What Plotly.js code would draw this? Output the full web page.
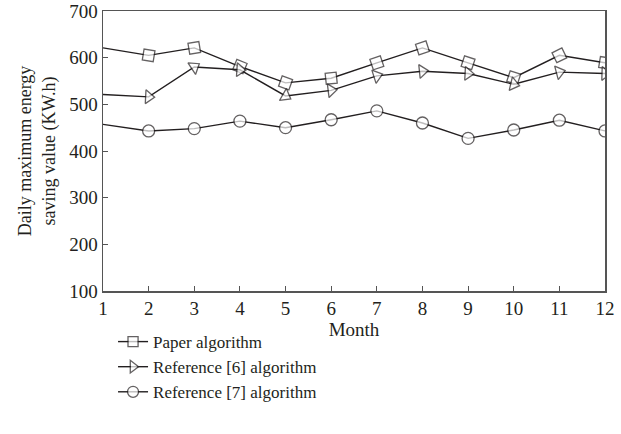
<!DOCTYPE html>
<html>
<head>
<meta charset="utf-8">
<script src="https://cdn.plot.ly/plotly-3.0.1.min.js"></script>
<style>html,body{margin:0;padding:0;background:#fff;}#chart{width:621px;height:434px;}</style>
</head>
<body>
<div id="chart"></div>
<script>
var months = [1,2,3,4,5,6,7,8,9,10,11,12];
var paperAlgorithm = [621,605,621,581,546,556,589,621,589,557,605,589];
var reference6 = [521,516,580,574,518,530,561,571,566,543,569,566];
var reference7 = [457,443,448,464,450,467,486,460,427,445,466,443];
var seriesNames = ['Paper algorithm','Reference [6] algorithm','Reference [7] algorithm'];
var xTicks = [1,2,3,4,5,6,7,8,9,10,11,12];
var yTicks = [100,200,300,400,500,600,700];

var lineColor = '#231f20';
var font = 'Liberation Serif, Times New Roman, serif';

function sizes(arr, s){ return arr.map(function(v,i){ return i===0 ? 0 : s; }); }

function mk(y, name, symbol, s){
  return {
    x: months, y: y, name: name, type: 'scatter', mode: 'lines+markers',
    line: {color: lineColor, width: 1.4},
    marker: {symbol: symbol, size: sizes(y, s), color: '#ffffff', angleref: 'previous',
             line: {color: lineColor, width: 1.3}}
  };
}

var data = [
  mk(paperAlgorithm, seriesNames[0], 'square', 11),
  mk(reference6, seriesNames[1], 'triangle-up', 12),
  mk(reference7, seriesNames[2], 'circle', 12)
];

var layout = {
  width: 621, height: 434,
  margin: {l: 103, r: 16, t: 11, b: 143},
  paper_bgcolor: '#ffffff', plot_bgcolor: '#ffffff',
  font: {family: font, size: 19, color: '#231f20'},
  showlegend: true,
  legend: {x: 0.02, y: -0.118, xanchor: 'left', yanchor: 'top', bgcolor: 'rgba(0,0,0,0)',
           font: {family: font, size: 17, color: '#231f20'}, tracegroupgap: 0},
  xaxis: {
    range: [1, 12], tickvals: xTicks, ticktext: xTicks.map(String),
    ticks: 'inside', ticklen: 5, tickcolor: '#555', showgrid: false, zeroline: false,
    showline: true, linecolor: '#555', linewidth: 1.5, mirror: true,
    title: {text: 'Month', standoff: 0, font: {family: font, size: 19}},
    tickfont: {family: font, size: 19}
  },
  yaxis: {
    range: [100, 700], tickvals: yTicks,
    ticks: 'inside', ticklen: 5, tickcolor: '#555', showgrid: false, zeroline: false,
    showline: true, linecolor: '#555', linewidth: 1.5, mirror: true,
    title: {text: 'Daily maximum energy<br>saving value (KW.h)', standoff: 9, font: {family: font, size: 18}},
    tickfont: {family: font, size: 19}
  }
};

Plotly.newPlot('chart', data, layout, {displayModeBar: false, staticPlot: true});
</script>
</body>
</html>
